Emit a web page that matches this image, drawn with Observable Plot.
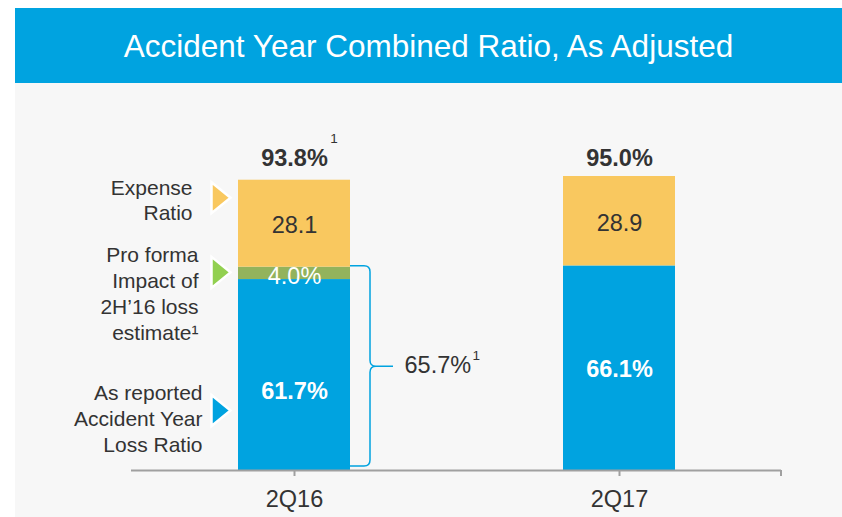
<!DOCTYPE html>
<html><head><meta charset="utf-8">
<script src="https://cdn.jsdelivr.net/npm/d3@7"></script>
<script src="https://cdn.jsdelivr.net/npm/@observablehq/plot@0.6"></script>
<style>
html,body{margin:0;padding:0;background:#fff;}
body{width:842px;height:517px;overflow:hidden;font-family:"Liberation Sans",Arial,sans-serif;}
#wrap{margin-left:15px;padding-top:8px;width:827px;}
#banner{background:#00a3e0;color:#fff;height:73px;padding-top:2px;line-height:73px;text-align:center;font-size:31.5px;white-space:nowrap;}
#chart svg{display:block;background:#f7f7f7;font-family:"Liberation Sans",Arial,sans-serif;}
</style></head><body>
<div id="wrap"><div id="banner">Accident Year Combined Ratio, As Adjusted</div><div id="chart"></div></div>
<script>
// ---- data ----
const quarters = ["2Q16", "2Q17"];
const asReported = [61.7, 66.1];   // As reported accident year loss ratio (%)
const proForma = [4.0, 0];         // Pro forma impact of 2H'16 loss estimate (%)
const expense = [28.1, 28.9];      // Expense ratio
const totals = [93.8, 95.0];       // Combined ratio, as adjusted (%)
const adjustedLoss = [65.7];       // 2Q16 loss ratio incl. pro forma impact (%)
const seriesKeys = ["loss", "proforma", "expense"];
const legendLabels = ["As reported\nAccident Year\nLoss Ratio", "Pro forma\nImpact of\n2H’16 loss\nestimate¹", "Expense\nRatio"];
const footnote = "1";

// ---- build stacked rows ----
const seriesValues = {loss: asReported, proforma: proForma, expense: expense};
const rows = [];
quarters.forEach((q, i) => {
  let acc = 0;
  seriesKeys.forEach(s => {
    const v = seriesValues[s][i];
    if (v > 0) rows.push({q, s, v, y1: acc, y2: acc + v, mid: acc + v / 2});
    acc += v;
  });
});
const fmtPct = v => `${v.toFixed(1)}%`;
const rowOf = (q, s) => rows.find(d => d.q === q && d.s === s);

const barColors = {loss: "#00a3e0", proforma: "#93b35c", expense: "#f9c85f"};
const arrowColors = {loss: "#00a3e0", proforma: "#92d050", expense: "#f9c85f"};
const txt = "#333333";
const big = 23.5;

// right-pointing triangle symbol
const arrowSymbol = {draw(ctx) { ctx.moveTo(-9.5, -15.5); ctx.lineTo(9.5, 0); ctx.lineTo(-9.5, 15.5); ctx.closePath(); }};

// legend items anchored on the 2Q16 segments
const legendStyle = {
  expense:  {tdy: -26, ldy: -24, ldx: -102, lh: 1.19},
  proforma: {tdy: -1,  ldy: 19,  ldx: -96,  lh: 1.24},
  loss:     {tdy: 35.5, ldy: 43, ldx: -92,  lh: 1.24}
};
const legendMarks = seriesKeys.flatMap((s, k) => {
  const r = rowOf(quarters[0], s);
  const st = legendStyle[s];
  return [
    Plot.dot([r], {x: "q", y: "mid", symbol: arrowSymbol, fill: arrowColors[s], stroke: "#fff", strokeWidth: 2.5, dx: -73.5, dy: st.tdy}),
    Plot.text([r], {x: "q", y: "mid", text: () => legendLabels[k], textAnchor: "end", lineAnchor: "middle", lineHeight: st.lh, fontSize: 21, fill: txt, dx: st.ldx, dy: st.ldy})
  ];
});

// brace + axis end tick
const braceMark = (index, scales, values, dimensions) => {
  const sx = scales.x, sy = scales.y;
  const bw = typeof sx.bandwidth === "function" ? sx.bandwidth() : 0;
  const x0 = sx(quarters[0]) + bw;
  const xv = x0 + 20, xt = x0 + 43, r = 6;
  const yT = sy(adjustedLoss[0]) - 1, yB = sy(0) - 4, yM = sy(adjustedLoss[0] / 2) - 2;
  const p = d3.path();
  p.moveTo(x0, yT); p.lineTo(xv - r, yT); p.quadraticCurveTo(xv, yT, xv, yT + r);
  p.lineTo(xv, yM - r); p.quadraticCurveTo(xv, yM, xv + r, yM); p.lineTo(xt, yM);
  p.moveTo(xv + r, yM); p.quadraticCurveTo(xv, yM, xv, yM + r);
  p.lineTo(xv, yB - r); p.quadraticCurveTo(xv, yB, xv - r, yB); p.lineTo(x0, yB);
  const g = d3.create("svg:g");
  g.append("path").attr("d", p.toString()).attr("fill", "none").attr("stroke", "#00a3e0").attr("stroke-width", 1.5);
  const xe = dimensions.width - dimensions.marginRight;
  g.append("line").attr("x1", xe).attr("x2", xe).attr("y1", sy(0)).attr("y2", sy(0) + 6).attr("stroke", "#a0a0a0").attr("stroke-width", 2);
  return g.node();
};

const chart = Plot.plot({
  width: 827,
  height: 434,
  marginLeft: 116,
  marginRight: 61,
  marginTop: 93,
  marginBottom: 47,
  style: {background: "#f7f7f7", fontFamily: "Liberation Sans, Arial, sans-serif"},
  x: {domain: quarters, paddingInner: 0.6554, paddingOuter: 0.3277, label: null, axis: null},
  y: {domain: [0, 95], axis: null},
  color: {domain: seriesKeys, range: seriesKeys.map(s => barColors[s])},
  marks: [
    Plot.barY(rows, {x: "q", y1: "y1", y2: "y2", fill: "s"}),
    Plot.ruleY([0], {stroke: "#a0a0a0", strokeWidth: 2}),
    Plot.axisX({tickSize: 6, tickPadding: 14, fontSize: big, stroke: "#a0a0a0", strokeWidth: 2, fill: txt, label: null}),
    // segment labels
    Plot.text(rows.filter(d => d.s === "expense"), {x: "q", y: "mid", text: d => d.v.toFixed(1), fontSize: big, fill: txt, dy: 2}),
    Plot.text(rows.filter(d => d.s === "proforma"), {x: "q", y: "mid", text: d => fmtPct(d.v), fontSize: big, fill: "#fff", dy: 3.5}),
    Plot.text(rows.filter(d => d.s === "loss" && d.q === quarters[0]), {x: "q", y: "mid", text: d => fmtPct(d.v), fontSize: big, fontWeight: "bold", fill: "#fff", dy: 16}),
    Plot.text(rows.filter(d => d.s === "loss" && d.q === quarters[1]), {x: "q", y: "mid", text: d => fmtPct(d.v), fontSize: big, fontWeight: "bold", fill: "#fff", dy: 1.5}),
    // totals
    Plot.text(quarters, {x: d => d, frameAnchor: "top", lineAnchor: "middle", text: (d, i) => fmtPct(totals[i]), fontSize: big, fontWeight: "bold", fill: txt, dy: -18}),
    Plot.text([quarters[0]], {x: d => d, frameAnchor: "top", lineAnchor: "middle", text: () => footnote, fontSize: 13.5, fill: txt, dx: 39.5, dy: -38}),
    // brace label
    Plot.text(adjustedLoss, {x: () => quarters[0], y: d => d / 2, text: d => fmtPct(d), fontSize: big, fill: txt, textAnchor: "start", dx: 110, dy: -3}),
    Plot.text(adjustedLoss, {x: () => quarters[0], y: d => d / 2, text: () => footnote, fontSize: 13.5, fill: txt, textAnchor: "start", dx: 178, dy: -13}),
    ...legendMarks,
    braceMark
  ]
});
document.getElementById("chart").appendChild(chart);
</script>
</body></html>
